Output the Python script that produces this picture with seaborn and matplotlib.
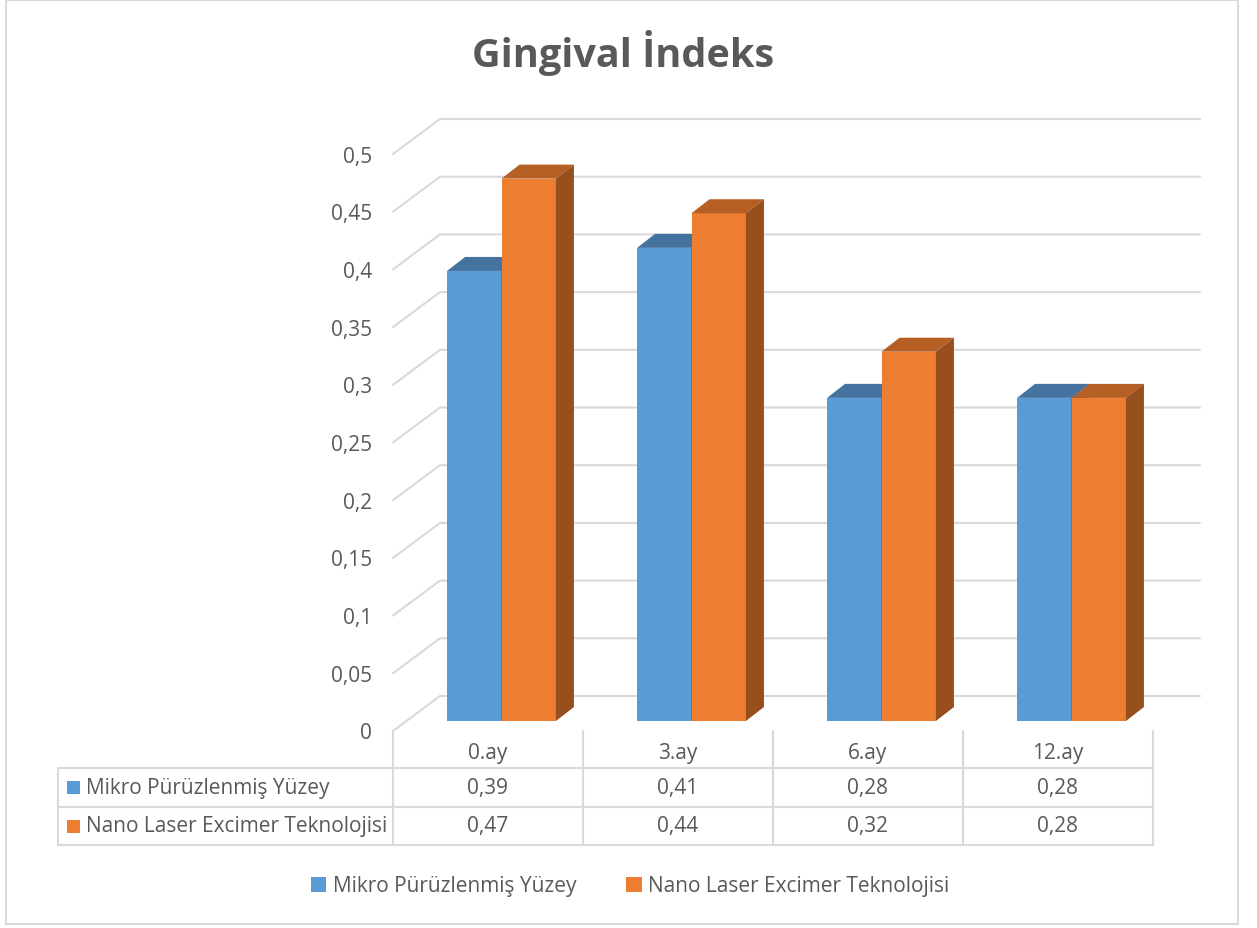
import numpy as np
import pandas as pd
import seaborn as sns
import matplotlib.pyplot as plt
from matplotlib.patches import Polygon, Rectangle, Patch
from matplotlib.lines import Line2D
from matplotlib.colors import to_hex

# data
categories = ['0.ay', '3.ay', '6.ay', '12.ay']
series = ['Mikro Pürüzlenmiş Yüzey', 'Nano Laser Excimer Teknolojisi']
mikro = [0.39, 0.41, 0.28, 0.28]
nano = [0.47, 0.44, 0.32, 0.28]
y_ticks = [0, 0.05, 0.1, 0.15, 0.2, 0.25, 0.3, 0.35, 0.4, 0.45, 0.5]
title = 'Gingival İndeks'

BLUE, ORANGE = '#5B9BD5', '#ED7D31'
BLUE_TOP, BLUE_SIDE = '#44739F', '#3A6590'
ORANGE_TOP, ORANGE_SIDE = '#B65F24', '#974F1E'
GRID = '#D9D9D9'
TXT = '#595959'
FS = 15

sns.set_theme(style='white')
plt.rcParams['font.family'] = ['Open Sans', 'DejaVu Sans']

W, H = 1257, 929
def fx(px):
    return px / W
def fy(py):
    return 1 - py / H

df = pd.DataFrame({
    'ay': categories * 2,
    'deger': mikro + nano,
    'grup': [series[0]] * 4 + [series[1]] * 4,
})

fig = plt.figure(figsize=(W / 100, H / 100), dpi=100)
ax = fig.add_axes([fx(406.5), fy(722), fx(760), (722 - 145) / H])
sns.barplot(data=df, x='ay', y='deger', hue='grup', order=categories, hue_order=series,
            palette=[BLUE, ORANGE], width=0.573, saturation=1, linewidth=0,
            legend=False, ax=ax)
ax.set_xlim(-0.5, 3.5)
ax.set_ylim(0, 0.5)
ax.axis('off')

def to_fig(x, y, dx=0, dy=0):
    # data point + pixel offset (right / up) -> figure fraction
    px, py = ax.transData.transform((x, y))
    return fig.transFigure.inverted().transform((px + dx, py + dy))

WALL_FRONT = (-13.5, -10)
WALL_BACK = (33.5, 25)
DEPTH = (18, 14)

# walls + y labels
for v in y_ticks:
    a = to_fig(-0.5, v, *WALL_FRONT)
    b = to_fig(-0.5, v, *WALL_BACK)
    c = to_fig(3.5, v, *WALL_BACK)
    ax.add_line(Line2D([a[0], b[0], c[0]], [a[1], b[1], c[1]], transform=fig.transFigure,
                       color=GRID, lw=1.5, zorder=0.5, clip_on=False))
    p = to_fig(-0.5, v, WALL_FRONT[0] - 21, WALL_FRONT[1] - 2)
    ax.text(p[0], p[1], f'{v:g}'.replace('.', ','), transform=fig.transFigure,
            ha='right', va='center', fontsize=FS, color=TXT)

# 3d faces for bars
for patch in ax.patches:
    is_blue = to_hex(patch.get_facecolor()).upper() == BLUE
    x0, w, h = patch.get_x(), patch.get_width(), patch.get_height()
    z = 3 if is_blue else 5
    patch.set_zorder(z)
    top = [to_fig(x0, h), to_fig(x0 + w, h), to_fig(x0 + w, h, *DEPTH), to_fig(x0, h, *DEPTH)]
    side = [to_fig(x0 + w, 0), to_fig(x0 + w, h), to_fig(x0 + w, h, *DEPTH), to_fig(x0 + w, 0, *DEPTH)]
    ax.add_patch(Polygon(top, closed=True, transform=fig.transFigure, clip_on=False, lw=0,
                         fc=BLUE_TOP if is_blue else ORANGE_TOP, zorder=z + 1))
    ax.add_patch(Polygon(side, closed=True, transform=fig.transFigure, clip_on=False, lw=0,
                         fc=BLUE_SIDE if is_blue else ORANGE_SIDE, zorder=z + 1))

# data table
y0 = to_fig(-0.5, 0, *WALL_FRONT)[1]
rows = [y0 - 37 / H, y0 - 76 / H, y0 - 114 / H]
cols = [to_fig(-0.5 + k, 0, *WALL_FRONT)[0] for k in range(5)]
left = fx(58)
for k, xc in enumerate(cols):
    fig.add_artist(Line2D([xc, xc], [y0, rows[2]], color=GRID, lw=1.5))
fig.add_artist(Line2D([left, left], [rows[0], rows[2]], color=GRID, lw=1.5))
for r in rows:
    fig.add_artist(Line2D([left, cols[-1]], [r, r], color=GRID, lw=1.5))

for k, cat in enumerate(categories):
    xc = to_fig(k, 0, *WALL_FRONT)[0]
    fig.text(xc, (y0 + rows[0]) / 2 - 3 / H, cat, ha='center', va='center', fontsize=FS, color=TXT)
    for vals, r_top, r_bot in [(mikro, rows[0], rows[1]), (nano, rows[1], rows[2])]:
        fig.text(xc, (r_top + r_bot) / 2, f'{vals[k]:.2f}'.replace('.', ','),
                 ha='center', va='center', fontsize=FS, color=TXT)

for name, col, r_top, r_bot in [(series[0], BLUE, rows[0], rows[1]), (series[1], ORANGE, rows[1], rows[2])]:
    yc = (r_top + r_bot) / 2
    fig.add_artist(Rectangle((fx(67), yc - 6.5 / H), 13 / W, 13 / H, fc=col, lw=0))
    fig.text(fx(86), yc, name, ha='left', va='center', fontsize=FS, color=TXT)

# legend
handles = [Patch(fc=BLUE, lw=0), Patch(fc=ORANGE, lw=0)]
fig.legend(handles, series, loc='center', bbox_to_anchor=(fx(630), fy(887)), ncol=2,
           frameon=False, fontsize=FS, labelcolor=TXT, handlelength=0.75, handleheight=0.75,
           handletextpad=0.3, columnspacing=2.4)

fig.text(fx(623), fy(53), title, ha='center', va='center', fontsize=28.5,
         fontweight='bold', color=TXT)

# outer frame
fig.add_artist(Rectangle((fx(6), fy(925)), fx(1232), 924 / H, fill=False, ec=GRID, lw=1.5))

fig.savefig('out.png', dpi=100)
